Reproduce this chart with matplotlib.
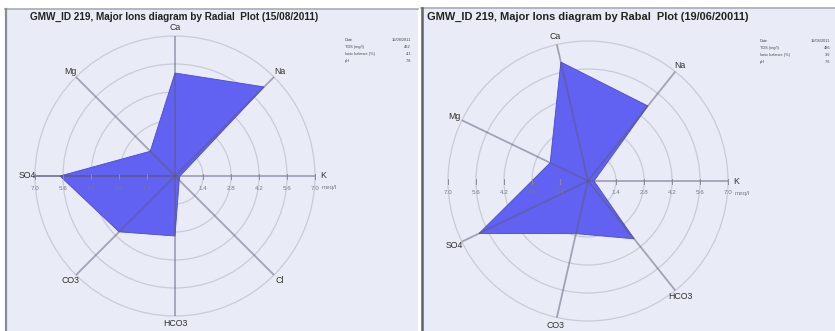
import numpy as np
import matplotlib
matplotlib.use('Agg')
import matplotlib.pyplot as plt
from matplotlib.patches import Circle, Rectangle
from matplotlib.lines import Line2D

plt.rcParams['font.family'] = ['Liberation Sans', 'DejaVu Sans']

# ---------------- data ----------------
ticks = [1.4, 2.8, 4.2, 5.6, 7.0]
tick_labels = ['1.4', '2.8', '4.2', '5.6', '7.0']
unit_label = 'meq/l'

left_title = 'GMW_ID 219, Major Ions diagram by Radial  Plot (15/08/2011)'
left_ions = ['K', 'Na', 'Ca', 'Mg', 'SO4', 'CO3', 'HCO3', 'Cl']
left_values = [0.25, 6.3, 5.15, 1.75, 5.75, 3.95, 3.0, 0.3]
left_info_keys = ['Date', 'TDS (mg/l)', 'Ionic balance (%)', 'pH']
left_info_vals = ['15/08/2011', '462', '4.1', '7.8']

right_title = 'GMW_ID 219, Major Ions diagram by Rabal  Plot (19/06/20011)'
right_ions = ['K', 'Na', 'Ca', 'Mg', 'SO4', 'CO3', 'HCO3']
right_values = [0.3, 4.8, 6.1, 2.1, 6.05, 2.7, 3.7]
right_info_keys = ['Date', 'TDS (mg/l)', 'Ionic balance (%)', 'pH']
right_info_vals = ['19/06/2011', '486', '3.9', '7.6']

W, H = 835, 331
BG = '#e9ecf6'
FILL = '#6262f2'
SPOKE = '#5a5a78'
CIRCLE = '#c9cbd6'

fig = plt.figure(figsize=(W / 100, H / 100), dpi=100)
fig.patch.set_facecolor('white')


def fx(px):
    return px / W


def fy(py):
    return 1 - py / H


# panel backgrounds and borders
fig.add_artist(Rectangle((fx(5), 0), fx(418) - fx(5), fy(9), transform=fig.transFigure,
                         facecolor=BG, edgecolor='none', zorder=0))
fig.add_artist(Rectangle((fx(421), 0), fx(835) - fx(421), fy(8), transform=fig.transFigure,
                         facecolor=BG, edgecolor='none', zorder=0))
fig.add_artist(Line2D([fx(5), fx(418)], [fy(9), fy(9)], transform=fig.transFigure,
                      color='#a8aab4', lw=1.2))
fig.add_artist(Line2D([fx(421), fx(835)], [fy(8), fy(8)], transform=fig.transFigure,
                      color='#a8aab4', lw=1.2))
fig.add_artist(Line2D([fx(6), fx(6)], [0, fy(9)], transform=fig.transFigure,
                      color='#8a8c98', lw=1.6))
fig.add_artist(Line2D([fx(421.5), fx(421.5)], [0, fy(8)], transform=fig.transFigure,
                      color='#606270', lw=1.8))


def draw_panel(cx, cy, ions, values, full_axis):
    ax = fig.add_axes([fx(cx - 155), (H - cy - 155) / H, 310 / W, 310 / H])
    ax.set_xlim(-7.75, 7.75)
    ax.set_ylim(-7.75, 7.75)
    ax.axis('off')
    ax.patch.set_alpha(0)
    n = len(ions)
    ang = np.deg2rad(np.arange(n) * 360.0 / n)
    rmax = ticks[-1]
    for t in ticks:
        ax.add_patch(Circle((0, 0), t, fill=False, edgecolor=CIRCLE, lw=0.9, zorder=1))
    vals = np.array(values)
    ax.fill(vals * np.cos(ang), vals * np.sin(ang), facecolor=FILL,
            edgecolor='#4a4ad0', lw=0.6, zorder=2)
    for a, name in zip(ang, ions):
        ax.plot([0, rmax * np.cos(a)], [0, rmax * np.sin(a)], color=SPOKE,
                alpha=0.5, lw=1.3, zorder=3, solid_capstyle='butt')
        ax.text(7.4 * np.cos(a), 7.4 * np.sin(a), name, ha='center', va='center',
                fontsize=6.3, color='#303030', zorder=4)
    if full_axis:
        ax.plot([-rmax, 0], [0, 0], color=SPOKE, alpha=0.5, lw=1.3, zorder=3)
    for t, lab in zip(ticks, tick_labels):
        for s in (-1, 1):
            ax.plot([s * t, s * t], [-0.15, 0.12], color='#8a8c98', lw=0.7, zorder=3)
            ax.text(s * t, -0.6, lab, ha='center', va='center', fontsize=4.5,
                    color='#777a88', zorder=4)
    ax.text(ticks[-1] + 0.35, -0.6, unit_label, ha='left', va='center', fontsize=4.5,
            color='#777a88', zorder=4)
    return ax


draw_panel(175, 176, left_ions, left_values, True)
draw_panel(588, 181, right_ions, right_values, False)

fig.text(fx(30), fy(17), left_title, fontsize=7.2, fontweight='bold', color='#222222',
         ha='left', va='center')
fig.text(fx(427), fy(17), right_title, fontsize=7.9, fontweight='bold', color='#222222',
         ha='left', va='center')

for i, (k, v) in enumerate(zip(left_info_keys, left_info_vals)):
    y = 40 + i * 7
    fig.text(fx(345), fy(y), k, fontsize=2.8, color='#444444', ha='left', va='center')
    fig.text(fx(411), fy(y), v, fontsize=2.8, color='#444444', ha='right', va='center')
for i, (k, v) in enumerate(zip(right_info_keys, right_info_vals)):
    y = 41 + i * 7
    fig.text(fx(760), fy(y), k, fontsize=2.8, color='#444444', ha='left', va='center')
    fig.text(fx(830), fy(y), v, fontsize=2.8, color='#444444', ha='right', va='center')

fig.savefig('out.png', dpi=100, facecolor=fig.get_facecolor())
